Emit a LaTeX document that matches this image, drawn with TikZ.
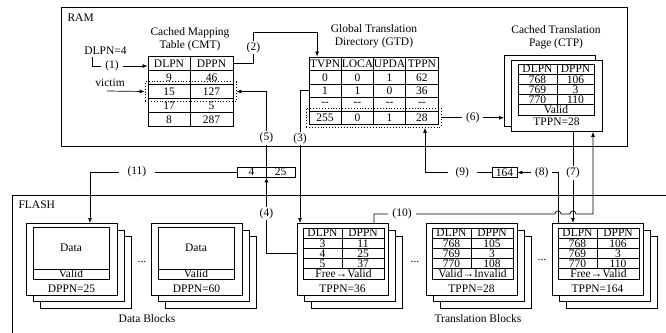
\documentclass[tikz,border=0pt]{standalone}
\usepackage{fontspec}
\setmainfont{Liberation Serif}
\usetikzlibrary{arrows.meta,calc,fit}

\tikzset{
  cell/.style={draw, line width=0.9pt, inner sep=0pt},
  page/.style={draw, fill=white, line width=0.9pt, anchor=north west,
    minimum width=91pt, minimum height=71.5pt, inner sep=0pt},
  dotbox/.style={draw, dotted, line width=0.9pt, inner sep=2.5pt},
  lbl/.style={fill=white, inner xsep=4pt, inner ysep=1.5pt},
  link/.style={line width=0.7pt, ->},
  mem/.style={draw, line width=0.8pt},
}

% stack of translation pages: x, name, rows, state, number
\newcommand{\transpage}[5]{%
  \node[page] at (#1+14,236) {};
  \node[page] at (#1+7,229.5) {};
  \node[page] (#2) at (#1,223) {};
  \node[cell, minimum width=39pt, minimum height=10.2pt] at (#1+25.5,233.1) {DLPN};
  \node[cell, minimum width=42pt, minimum height=10.2pt] at (#1+66,233.1) {DPPN};
  \foreach \l/\p [count=\i] in {#3}{
    \node[cell, minimum width=39pt, minimum height=10.2pt] at (#1+25.5,233.1+10.2*\i) {\l};
    \node[cell, minimum width=42pt, minimum height=10.2pt] at (#1+66,233.1+10.2*\i) {\p};
  }
  \node[cell, minimum width=81pt, minimum height=10.2pt] at (#1+46.5,273.9) {#4};
  \node at (#1+45.5,289) {#5};
}

% stack of data pages: x, name, number
\newcommand{\datapage}[3]{%
  \node[page] at (#1+14,236) {};
  \node[page] at (#1+7,229.5) {};
  \node[page] (#2) at (#1,223) {};
  \node[cell, minimum width=76pt, minimum height=42pt] at (#1+45,248) {Data};
  \node[cell, minimum width=76pt, minimum height=10pt] at (#1+45,274) {Valid};
  \node at (#1+45.5,289) {#3};
}

\begin{document}
\begin{tikzpicture}[x=1pt, y=-1pt, font=\fontsize{11.5}{13}\selectfont,
  >={Latex[length=5pt,width=4pt]}]
\useasboundingbox (0,0) rectangle (666,332);
\clip (0,0) rectangle (666,332);

% memories
\draw[mem] (61,7) rectangle (627,146);
\node[anchor=west] (ram) at (64,18) {RAM};
\draw[mem] (12,195) rectangle (700,360);
\node[anchor=west] (flash) at (15,205) {FLASH};

% cached mapping table
\node[align=center] (cmtt) at (190,39.5) {Cached Mapping\\Table (CMT)};
\foreach \l/\p [count=\i] in {DLPN/DPPN,9/46,15/127,17/5,8/287}{
  \node[cell, minimum width=42pt, minimum height=14pt] (cmtl\i) at (169,49.5+14*\i) {\l};
  \node[cell, minimum width=43pt, minimum height=14pt] (cmtp\i) at (211.5,49.5+14*\i) {\p};
}
\node[dotbox, fit=(cmtl3)(cmtp3)] (cmtvic) {};
\node (dlpn) at (105.5,51) {DLPN=4};
\node (victim) at (110,83) {victim};
\coordinate (c1) at (92,57);
\coordinate (c0) at (107,91);

% global translation directory
\node[align=center] (gtdt) at (374,36) {Global Translation\\Directory (GTD)};
\foreach \a/\b/\c/\d [count=\i] in {TVPN/LOCA/UPDA/TPPN,0/0/1/62,1/1/0/36,-{}-/-{}-/-{}-/-{}-,255/0/1/28}{
  \node[cell, minimum width=32.25pt, minimum height=13.5pt] (gtda\i) at (325.1,50.25+13.5*\i) {\a};
  \node[cell, minimum width=32.25pt, minimum height=13.5pt] (gtdb\i) at (357.4,50.25+13.5*\i) {\b};
  \node[cell, minimum width=32.25pt, minimum height=13.5pt] (gtdc\i) at (389.6,50.25+13.5*\i) {\c};
  \node[cell, minimum width=32.25pt, minimum height=13.5pt] (gtdd\i) at (421.9,50.25+13.5*\i) {\d};
}
\node[dotbox, fit=(gtda5)(gtdd5)] (gtdvic) {};

% cached translation page
\node[align=center] (ctpt) at (556,37.5) {Cached Translation\\Page (CTP)};
\node[page] (ctpb) at (504,54.5) {};
\node[page] (ctpf) at (511,59.5) {};
\foreach \l/\p [count=\i] in {DLPN/DPPN,768/106,769/3,770/110}{
  \node[cell, minimum width=39pt, minimum height=10.2pt] (ctpl\i) at (537.5,58.9+10.2*\i) {\l};
  \node[cell, minimum width=37pt, minimum height=10.2pt] (ctpp\i) at (575.5,58.9+10.2*\i) {\p};
}
\node[cell, minimum width=76pt, minimum height=10.2pt] (ctpv) at (556,109.9) {Valid};
\node (ctpn) at (556.5,121.5) {TPPN=28};

% entries in transit
\node[cell, minimum width=29pt, minimum height=10pt] (mpa) at (251.5,172) {4};
\node[cell, minimum width=29pt, minimum height=10pt] (mpb) at (280.5,172) {25};
\node[cell, minimum width=25pt, minimum height=9.5pt] (b164) at (504.5,172.5) {164};

% flash blocks
\datapage{26}{da}{DPPN=25}
\datapage{151}{db}{DPPN=60}
\transpage{297}{ta}{3/11,4/25,5/37}{Free→Valid}{TPPN=36}
\transpage{426}{tb}{768/105,769/3,770/108}{Valid→Invalid}{TPPN=28}
\transpage{552}{tc}{768/106,769/3,770/110}{Free→Valid}{TPPN=164}
\node (dots1) at (142,262) {...};
\node (dots2) at (415,262) {...};
\node (dots3) at (542,260) {...};
\node (dblk) at (147,319) {Data Blocks};
\node (tblk) at (478,319) {Translation Blocks};

% steps
\draw[link] (c1) |- node[lbl,pos=0.68]{(1)} (cmtl1.west |- 0,66);
\draw[link] (c0) -- (cmtvic.west);
\draw[link] (cmtp1.east) -- ++(20,0) -- node[lbl]{(2)} ++(0,-31.5) -| ($(gtda1.north)+(-8,0)$);
\draw[link] (gtda3.west) -| node[lbl,pos=0.68]{(3)} ($(ta.north west)+(3,0)$);
\draw[link] ($(ta.north west)+(0,30)$) -| node[lbl,pos=0.76]{(4)} (mpa.south east);
\draw[link] (mpa.north east) |- node[lbl,pos=0.19]{(5)} (cmtvic.east);
\draw[link] (gtdvic.east) -- node[lbl]{(6)} (ctpb.west |- gtdvic.east);
\draw[link] ($(ctpf.south west)+(62,0)$) -- node[lbl,pos=0.45]{(7)} ($(tc.north west)+(21,0)$);
\draw[link] ($(tc.north west)+(6,0)$) |- node[lbl,pos=0.7]{(8)} (b164.east);
\draw[link] (b164.west) -| node[lbl,inner xsep=8pt,pos=0.22]{(9)} (gtdvic.south -| 425,0);
\draw[link] ($(ta.north west)+(77,0)$) -- ++(0,-9) -- node[lbl,pos=0.155]{(10)} (555,214)
  arc[start angle=180, end angle=0, radius=3pt] -- (570,214)
  arc[start angle=180, end angle=0, radius=3pt] -- (593,214) -- ($(ctpf.south west)+(82,0)$);
\draw[link] (mpa.west) -| node[lbl,inner xsep=9pt,pos=0.34]{(11)} ($(da.north west)+(64,0)$);
\end{tikzpicture}
\end{document}
